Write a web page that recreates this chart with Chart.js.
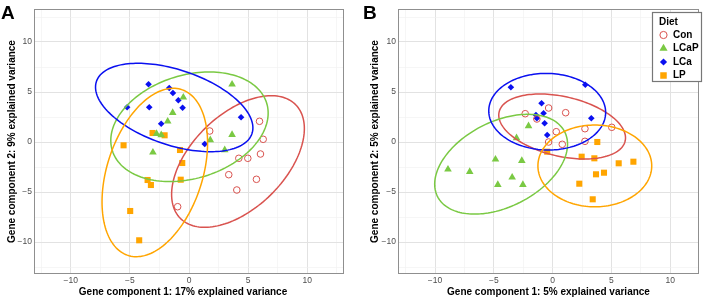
<!DOCTYPE html>
<html>
<head>
<meta charset="utf-8">
<script src="https://cdn.jsdelivr.net/npm/chart.js@4.4.1/dist/chart.umd.min.js"></script>
<style>
    body { margin: 0; background: #fff; }
    #wrap { position: relative; width: 709px; height: 299px; }
    canvas { position: absolute; top: 0; }
    #chartA { left: 0; }
    #chartB { left: 350px; }
</style>
</head>
<body>
<div id="wrap">
    <canvas id="chartA" width="350" height="299"></canvas>
    <canvas id="chartB" width="359" height="299"></canvas>
</div>
<script>
// --------------------------- Data ---------------------------
const groups = ["Con", "LCaP", "LCa", "LP"];
const tickLabels = [-10, -5, 0, 5, 10];

// Panel A
const conA_x = [1.75, 5.96, 6.27, 4.21, 4.97, 6.04, 3.36, 5.70, 4.04, -0.96];
const conA_y = [1.10, 2.07, 0.27, -1.63, -1.63, -1.20, -3.27, -3.73, -4.80, -6.47];
const lcapA_x = [3.64, -0.48, -1.38, -1.80, -2.74, -2.35, 3.64, 1.80, -3.05, 3.02];
const lcapA_y = [5.77, 4.47, 2.93, 2.07, 0.83, 0.70, 0.73, 0.20, -1.03, -0.80];
const lcaA_x = [-5.23, -3.42, -3.36, -1.67, -1.36, -0.90, -0.54, -2.35, 4.40, 1.33];
const lcaA_y = [3.47, 5.77, 3.47, 5.40, 4.90, 4.17, 3.43, 1.83, 2.47, -0.20];
const lpA_x = [-3.08, -2.06, -5.53, -0.76, -0.57, -3.50, -3.22, -0.70, -4.97, -4.21];
const lpA_y = [0.90, 0.67, -0.33, -0.80, -2.10, -3.80, -4.30, -3.77, -6.90, -9.83];

// Panel B
const conB_x = [-2.33, -0.34, 1.11, -1.34, 0.31, 2.75, 5.03, -0.34, 0.82, 2.75];
const conB_y = [2.83, 3.40, 2.93, 2.30, 1.03, 1.33, 1.47, 0.00, -0.23, 0.07];
const lcapB_x = [-2.05, -3.07, -8.90, -7.05, -4.86, -2.62, -3.44, -4.66, -2.53];
const lcapB_y = [1.60, 0.40, -2.73, -2.97, -1.73, -1.87, -3.53, -4.27, -4.27];
const lcaB_x = [-3.55, 2.78, -0.94, -0.77, -1.42, -1.34, -0.68, 3.29, -0.46];
const lcaB_y = [5.47, 5.73, 3.87, 2.87, 2.70, 2.37, 1.87, 2.37, 0.70];
const lpB_x = [3.80, -0.46, 2.47, 3.55, 5.62, 6.87, 3.69, 4.37, 2.27, 3.41];
const lpB_y = [0.00, -0.97, -1.47, -1.63, -2.13, -1.97, -3.23, -3.07, -4.17, -5.73];

// Ellipses per group: centre x, centre y, half-width, half-height, correlation
const ellipsesA = [
    [4.14, -1.95, 5.61, 6.58, 0.50],
    [0.04, 1.52, 6.65, 5.48, 0.25],
    [-1.25, 3.45, 6.65, 4.42, -0.46],
    [-2.89, -3.05, 4.46, 8.42, 0.35],
];
const ellipsesB = [
    [0.81, 1.55, 5.39, 3.25, -0.35],
    [-4.38, -2.22, 5.65, 4.99, 0.40],
    [-0.46, 3.03, 4.97, 3.83, -0.02],
    [3.59, -2.39, 4.84, 4.09, 0.00],
];

// --------------------------- Styles ---------------------------
const FONT = "'Liberation Sans', Arial, Helvetica, sans-serif";
const styles = [
    { color: "#D9534F", pointStyle: "circle", radius: 3.3, fill: false },
    { color: "#7AC943", pointStyle: "triangle", radius: 4.4, fill: true },
    { color: "#0A10F0", pointStyle: "rectRot", radius: 3.3, fill: true },
    { color: "#FFA500", pointStyle: "rect", radius: 4.3, fill: true },
];

function fmt(v) {
    return v < 0 ? "\u2212" + Math.abs(v) : String(v);
}

function toPoints(xs, ys) {
    return xs.map((x, i) => ({ x, y: ys[i] }));
}

function axis(min, max, title, fitFn, showTitle) {
    return {
        type: "linear",
        min,
        max,
        ticks: {
            stepSize: 2.5,
            includeBounds: false,
            autoSkip: false,
            maxRotation: 0,
            padding: 2,
            color: "#4d4d4d",
            font: { family: FONT, size: 8.5 },
            callback: (v) => tickLabels.includes(v) ? fmt(v) : "",
        },
        grid: {
            drawTicks: false,
            color: (c) => c.tick && c.tick.value % 5 === 0 ? "#e2e2e2" : "#f0f0f0",
            lineWidth: (c) => c.tick && c.tick.value % 5 === 0 ? 1 : 0.6,
        },
        border: { display: false },
        title: {
            display: showTitle,
            text: title,
            color: "#000",
            padding: 0,
            font: { family: FONT, size: 10, weight: "bold" },
        },
        afterFit: fitFn,
    };
}

// --------------------------- Chart builder ---------------------------
function makePanel(id, p) {
    const ctx = document.getElementById(id).getContext("2d");

    const datasets = groups.map((g, i) => ({
        label: g,
        data: toPoints(p.xs[i], p.ys[i]),
        pointStyle: styles[i].pointStyle,
        pointRadius: styles[i].radius,
        pointBorderWidth: styles[i].fill ? 0 : 1,
        pointBorderColor: styles[i].color,
        pointBackgroundColor: styles[i].fill ? styles[i].color : "rgba(0,0,0,0)",
        showLine: false,
    }));

    const panelPlugin = {
        id: "panelExtras",
        afterDatasetsDraw(chart) {
            const { ctx, chartArea: a, scales: { x, y } } = chart;
            ctx.save();
            ctx.beginPath();
            ctx.rect(a.left, a.top, a.right - a.left, a.bottom - a.top);
            ctx.clip();
            p.ellipses.forEach((e, i) => {
                const [cx, cy, rx, ry, rho] = e;
                const s = Math.sqrt(1 - rho * rho);
                ctx.beginPath();
                for (let k = 0; k <= 160; k++) {
                    const t = (k / 160) * 2 * Math.PI;
                    const px = x.getPixelForValue(cx + rx * Math.cos(t));
                    const py = y.getPixelForValue(cy + ry * (rho * Math.cos(t) + s * Math.sin(t)));
                    if (k === 0) ctx.moveTo(px, py); else ctx.lineTo(px, py);
                }
                ctx.closePath();
                ctx.strokeStyle = styles[i].color;
                ctx.lineWidth = 1.5;
                ctx.stroke();
            });
            ctx.restore();
        },
        afterDraw(chart) {
            const { ctx, chartArea: a } = chart;
            ctx.save();
            // panel border
            ctx.strokeStyle = "#8f8f8f";
            ctx.lineWidth = 1;
            ctx.strokeRect(a.left + 0.5, a.top + 0.5, a.right - a.left - 1, a.bottom - a.top - 1);

            // x axis title (drawn here so it can sit slightly off centre like the original)
            ctx.fillStyle = "#000";
            ctx.font = "bold 10px " + FONT;
            ctx.textAlign = "center";
            ctx.textBaseline = "middle";
            ctx.fillText(p.xTitle, (a.left + a.right) / 2 + p.xTitleShift, 292);
            ctx.textAlign = "left";

            // panel letter
            ctx.font = "bold 19px " + FONT;
            ctx.textBaseline = "alphabetic";
            ctx.fillText(p.letter, p.letterX, 19);

            // legend
            if (p.legend) {
                const bx = a.right - 46.5, by = 12.5, bw = 49, bh = 69;
                ctx.fillStyle = "#fff";
                ctx.fillRect(bx, by, bw, bh);
                ctx.strokeStyle = "#777";
                ctx.lineWidth = 1.2;
                ctx.strokeRect(bx, by, bw, bh);

                ctx.fillStyle = "#000";
                ctx.font = "bold 10px " + FONT;
                ctx.textBaseline = "middle";
                ctx.fillText("Diet", bx + 6.5, by + 9.5);

                groups.forEach((g, i) => {
                    const yy = by + 22.5 + i * 13.5;
                    ctx.fillStyle = styles[i].fill ? styles[i].color : "rgba(0,0,0,0)";
                    ctx.strokeStyle = styles[i].color;
                    ctx.lineWidth = 1;
                    Chart.helpers.drawPoint(ctx, {
                        pointStyle: styles[i].pointStyle,
                        radius: styles[i].radius + 0.3,
                        borderWidth: styles[i].fill ? 0 : 1,
                        rotation: 0,
                    }, bx + 11, yy);
                    ctx.fillStyle = "#000";
                    ctx.font = "bold 10px " + FONT;
                    ctx.fillText(g, bx + 20.5, yy);
                });
            }
            ctx.restore();
        },
    };

    return new Chart(ctx, {
        type: "scatter",
        data: { datasets },
        options: {
            responsive: false,
            animation: false,
            devicePixelRatio: 1,
            layout: { padding: { left: p.padLeft, right: p.padRight, top: 9, bottom: 1 } },
            scales: {
                x: axis(p.xMin, p.xMax, p.xTitle, (s) => { s.height = 24; }, false),
                y: axis(-13.2, 13.3, p.yTitle, (s) => { s.width = p.yWidth; }, true),
            },
            plugins: {
                legend: { display: false },
                tooltip: { enabled: false },
            },
        },
        plugins: [panelPlugin],
    });
}

// --------------------------- Panels ---------------------------
makePanel("chartA", {
    xs: [conA_x, lcapA_x, lcaA_x, lpA_x],
    ys: [conA_y, lcapA_y, lcaA_y, lpA_y],
    ellipses: ellipsesA,
    xMin: -13.1,
    xMax: 13.1,
    xTitle: "Gene component 1: 17% explained variance",
    xTitleShift: -6,
    yTitle: "Gene component 2: 9% explained variance",
    letter: "A",
    letterX: 1,
    padLeft: 6,
    padRight: 6,
    yWidth: 28,
    legend: false,
});

makePanel("chartB", {
    xs: [conB_x, lcapB_x, lcaB_x, lpB_x],
    ys: [conB_y, lcapB_y, lcaB_y, lpB_y],
    ellipses: ellipsesB,
    xMin: -13.15,
    xMax: 12.45,
    xTitle: "Gene component 1: 5% explained variance",
    xTitleShift: 0,
    yTitle: "Gene component 2: 5% explained variance",
    letter: "B",
    letterX: 13,
    padLeft: 19,
    padRight: 10,
    yWidth: 29,
    legend: true,
});
</script>
</body>
</html>
